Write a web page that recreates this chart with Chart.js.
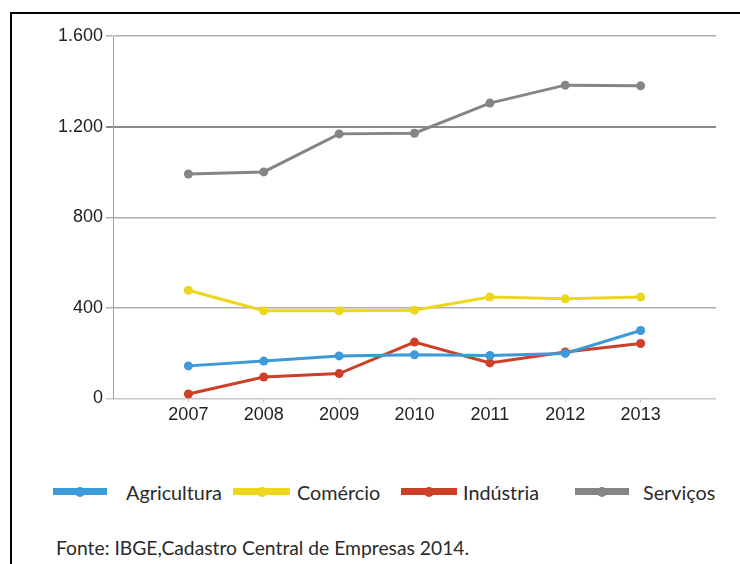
<!DOCTYPE html>
<html>
<head>
<meta charset="utf-8">
<script src="https://cdn.jsdelivr.net/npm/chart.js@4.4.0/dist/chart.umd.min.js"></script>
<style>
  html, body { margin: 0; padding: 0; background: #fff; }
  #wrap { position: relative; width: 740px; height: 564px; overflow: hidden; }
  #frame { position: absolute; left: 10px; top: 12px; width: 740px; height: 600px;
           border-top: 2px solid #000; border-left: 2px solid #000; }
  #cv { position: absolute; left: 0; top: 0; }
  .leg { position: absolute; top: 478px; height: 28px; font-family: Lato, "Open Sans", sans-serif;
         font-size: 19.8px; color: #2a2a2a; line-height: 28px; white-space: nowrap; }
  .legline { position: absolute; top: 10px; height: 7px; }
  .legdot { position: absolute; top: 8.5px; width: 10px; height: 10px; border-radius: 50%; }
  #foot { position: absolute; left: 56px; top: 536px; font-family: Lato, "Open Sans", sans-serif;
          font-size: 19.3px; color: #2a2a2a; white-space: nowrap; }
</style>
</head>
<body>
<div id="wrap">
  <div id="frame"></div>
  <canvas id="cv" width="740" height="440"></canvas>
  <div id="legend"></div>
  <div id="foot">Fonte: IBGE,Cadastro Central de Empresas 2014.</div>
</div>
<script>
const years = [2007, 2008, 2009, 2010, 2011, 2012, 2013];
const seriesNames = ['Agricultura', 'Comércio', 'Indústria', 'Serviços'];
const agricultura = [144, 165, 188, 193, 190, 199, 300];
const comercio = [478, 387, 387, 390, 448, 440, 448];
const industria = [20, 95, 110, 249, 157, 205, 243];
const servicos = [991, 1000, 1168, 1171, 1304, 1383, 1380];
const yTicks = [0, 400, 800, 1200, 1600];
const yTickLabels = ['0', '400', '800', '1.200', '1.600'];

const colors = ['#3d9ad8', '#ecd61e', '#cc4027', '#858585'];
const values = [agricultura, comercio, industria, servicos];

const datasets = seriesNames.map((name, i) => ({
  label: name,
  data: years.map((yr, j) => ({ x: yr, y: values[i][j] })),
  borderColor: colors[i],
  backgroundColor: colors[i],
  borderWidth: 3,
  pointRadius: 4.5,
  pointHoverRadius: 4.5,
  pointBorderWidth: 0,
  tension: 0
}));

// legend layout (positions only)
const legPos = [
  { line: 53, w: 54, text: 126 },
  { line: 233, w: 57, text: 297 },
  { line: 401, w: 56, text: 463 },
  { line: 575, w: 54, text: 643 }
];

const htmlLegend = {
  id: 'htmlLegend',
  afterUpdate(chart) {
    const box = document.getElementById('legend');
    box.innerHTML = '';
    chart.data.datasets.forEach((ds, i) => {
      const p = legPos[i];
      const ln = document.createElement('div');
      ln.className = 'leg';
      ln.style.left = p.line + 'px';
      ln.style.width = (p.text - p.line + 120) + 'px';
      const bar = document.createElement('div');
      bar.className = 'legline';
      bar.style.left = '0px';
      bar.style.width = p.w + 'px';
      bar.style.background = ds.borderColor;
      const dot = document.createElement('div');
      dot.className = 'legdot';
      dot.style.left = (p.w / 2 - 5) + 'px';
      dot.style.background = ds.borderColor;
      const txt = document.createElement('span');
      txt.style.position = 'absolute';
      txt.style.left = (p.text - p.line) + 'px';
      txt.textContent = ds.label;
      ln.appendChild(bar); ln.appendChild(dot); ln.appendChild(txt);
      box.appendChild(ln);
    });
  }
};

const tickFont = { family: '"Liberation Sans", Arial, sans-serif', size: 18 };

new Chart(document.getElementById('cv'), {
  type: 'line',
  data: { datasets },
  plugins: [htmlLegend],
  options: {
    responsive: false,
    animation: false,
    events: [],
    layout: { padding: { top: 36, right: 24, left: 0, bottom: 0 } },
    plugins: { legend: { display: false }, tooltip: { enabled: false } },
    scales: {
      x: {
        type: 'linear',
        min: 2006, max: 2014,
        afterBuildTicks(axis) { axis.ticks = years.map(v => ({ value: v })); },
        afterFit(axis) { axis.height = 41.5; },
        border: { display: false },
        grid: { drawOnChartArea: false, drawTicks: true, tickLength: 4, color: '#c8c8c8', lineWidth: 1 },
        ticks: { color: '#222', font: tickFont, padding: 2,
                 callback: v => String(v), maxRotation: 0, autoSkip: false }
      },
      y: {
        min: 0, max: 1600,
        afterBuildTicks(axis) { axis.ticks = yTicks.map(v => ({ value: v })); },
        afterFit(axis) { axis.width = 113; },
        border: { display: true, color: '#a0a0a0', width: 1 },
        grid: {
          drawTicks: true, tickLength: 7,
          color: ctx => ctx.tick && ctx.tick.value === 1200 ? '#8a8a8a' : (ctx.tick && ctx.tick.value === 0 ? '#c8c8c8' : '#b0b0b0'),
          lineWidth: ctx => ctx.tick && ctx.tick.value === 1200 ? 2 : 1.5
        },
        ticks: { color: '#222', font: tickFont, padding: 3,
                 callback: (v) => yTickLabels[yTicks.indexOf(v)] }
      }
    }
  }
});
</script>
</body>
</html>
